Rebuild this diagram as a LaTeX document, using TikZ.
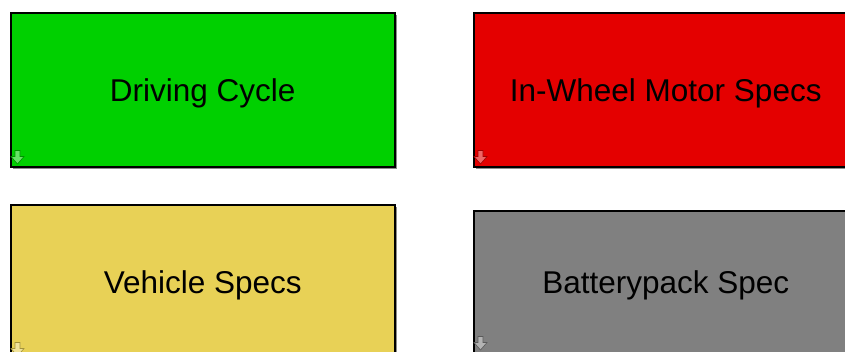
\documentclass[tikz,border=0pt]{standalone}
\usepackage{fontspec}
\setmainfont{Liberation Sans}
\usetikzlibrary{shadows}
\definecolor{cyclegreen}{RGB}{0,208,0}
\definecolor{motorred}{RGB}{228,0,0}
\definecolor{vehyellow}{RGB}{232,209,86}
\definecolor{packgray}{RGB}{128,128,128}

\begin{document}
\begin{tikzpicture}[x=1pt,y=-1pt,
 blk/.style={draw=black,line width=1.5pt,minimum width=384pt,inner sep=0pt,anchor=north west,text depth=0pt,
  font=\fontsize{31.5}{37}\selectfont,drop shadow={shadow xshift=2pt,shadow yshift=-2pt,opacity=.45,fill=black}},
 portmark/.style={draw=#1!70!black,fill=#1!60!white,line width=.6pt}]
\useasboundingbox (0,0) rectangle (845,351);
\node[blk,fill=cyclegreen,minimum height=154pt] (cycle) at (10,12) {Driving Cycle};
\node[blk,fill=motorred,minimum height=154pt] (motor) at (473,12) {In-Wheel Motor Specs};
\node[blk,fill=vehyellow,minimum height=154pt] (vehicle) at (10,204) {Vehicle Specs};
\node[blk,fill=packgray,minimum height=142pt] (pack) at (473,210) {Batterypack Spec};
% small down arrows in the corners
\foreach \b/\c in {cycle/cyclegreen,motor/motorred,vehicle/vehyellow,pack/packgray}
 \draw[portmark=\c] ([shift={(5,-17)}]\b.south west) -- ++(5,0) -- ++(0,6) -- ++(4,0) -- ++(-6.5,7.5) -- ++(-6.5,-7.5) -- ++(4,0) -- cycle;
\end{tikzpicture}
\end{document}
